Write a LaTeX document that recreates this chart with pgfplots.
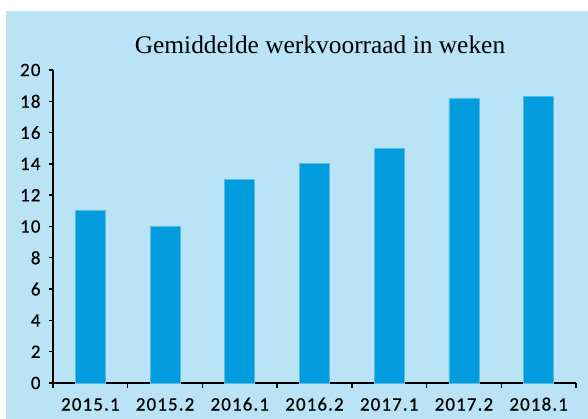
\documentclass[border=0pt]{standalone}
\usepackage{fontspec}
\setmainfont{Liberation Serif}
\newfontfamily\tickfont[LetterSpace=6,FakeBold=0.6]{Carlito}
\usepackage{pgfplots}
\pgfplotsset{compat=1.18}
\definecolor{bgc}{HTML}{BAE3F5}
\definecolor{barc}{HTML}{009CDE}
\definecolor{bare}{HTML}{55BCEB}
\begin{document}
\begin{tikzpicture}
\path[use as bounding box] (0,0) rectangle (588bp,419bp);
\fill[bgc] (6bp,0) rectangle (588bp,408bp);
\node[font=\fontsize{25.5}{30}\selectfont] at (320bp,374bp) {Gemiddelde werkvoorraad in weken};
\begin{axis}[
  at={(53bp,36bp)}, anchor=south west,
  scale only axis, width=523bp, height=313bp,
  xmin=0, xmax=7, ymin=0, ymax=20,
  axis x line*=bottom, axis y line*=left,
  axis line style={-, line width=1.6bp, black},
  xtick={0.5,1.5,...,6.5},
  xticklabels={2015.1,2015.2,2016.1,2016.2,2017.1,2017.2,2018.1},
  minor xtick={0,1,...,7},
  major x tick style={draw=none},
  minor tick length=5bp,
  ytick={0,2,...,20},
  major tick length=4bp,
  tick align=outside,
  tick style={black, line width=1.4bp},
  ticklabel style={font=\tickfont\fontsize{19}{22}\selectfont},
  xticklabel style={yshift=-7bp, anchor=north, text height=13bp, text depth=0bp},
  yticklabel style={xshift=-5bp},
  /pgf/number format/assume math mode=true,
  ybar, bar width=30bp,
]
\addplot[fill=barc, draw=bare, line width=0.8bp] coordinates {
 (0.5,11) (1.5,10) (2.5,13) (3.5,14) (4.5,15) (5.5,18.2) (6.5,18.3)
};
\end{axis}
\end{tikzpicture}
\end{document}
